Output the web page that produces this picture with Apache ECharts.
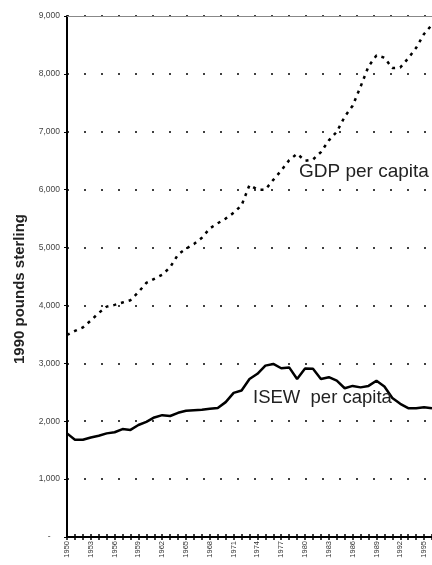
<!DOCTYPE html>
<html>
<head>
<meta charset="utf-8">
<script src="https://cdn.jsdelivr.net/npm/echarts@6/dist/echarts.min.js"></script>
<style>
  html, body { margin: 0; padding: 0; background: #fff; }
  #chart { width: 432px; height: 565px; }
</style>
</head>
<body>
<div id="chart"></div>
<script>
// years 1950-1996
const years = ['1950','1951','1952','1953','1954','1955','1956','1957','1958','1959',
  '1960','1961','1962','1963','1964','1965','1966','1967','1968','1969',
  '1970','1971','1972','1973','1974','1975','1976','1977','1978','1979',
  '1980','1981','1982','1983','1984','1985','1986','1987','1988','1989',
  '1990','1991','1992','1993','1994','1995','1996']

// GDP per capita (1990 pounds)
const gdp = [3490, 3560, 3620, 3740, 3870, 3980, 4010, 4050, 4090, 4230,
  4390, 4460, 4530, 4660, 4880, 4980, 5060, 5170, 5330, 5420,
  5500, 5600, 5730, 6080, 6000, 6000, 6170, 6330, 6510, 6620,
  6500, 6520, 6650, 6850, 7000, 7260, 7450, 7780, 8130, 8320,
  8280, 8100, 8110, 8270, 8450, 8690, 8850]

// ISEW per capita (1990 pounds)
const isew = [1790, 1680, 1680, 1720, 1750, 1790, 1810, 1865, 1850, 1935,
  1990, 2065, 2105, 2090, 2145, 2180, 2190, 2200, 2215, 2230,
  2330, 2490, 2530, 2730, 2820, 2960, 2990, 2915, 2930, 2730,
  2910, 2905, 2730, 2760, 2700, 2570, 2610, 2585, 2610, 2700,
  2600, 2400, 2300, 2225, 2225, 2240, 2225]

const chart = echarts.init(document.getElementById('chart'))

const font = 'Liberation Sans, Arial, sans-serif'

const option = {
  animation: false,
  backgroundColor: '#fff',
  grid: { left: 67, right: -2, top: 16, bottom: 28 },
  xAxis: [
    {
      type: 'category',
      data: years,
      boundaryGap: false,
      axisLine: { lineStyle: { color: '#000', width: 2 } },
      axisTick: { interval: 0, length: 3, lineStyle: { color: '#000', width: 1.5 } },
      axisLabel: {
        interval: 2, rotate: 90, fontSize: 7.5, color: '#333',
        fontFamily: font, margin: 4
      },
      splitLine: { show: false }
    },
    {
      // inside ticks so the marks cross the axis
      type: 'category',
      data: years,
      boundaryGap: false,
      position: 'bottom',
      axisLine: { show: false },
      axisTick: { inside: true, interval: 0, length: 3, lineStyle: { color: '#000', width: 1.5 } },
      axisLabel: { show: false },
      splitLine: { show: false }
    },
    {
      // top border of the plot
      type: 'category',
      data: years,
      boundaryGap: false,
      position: 'top',
      axisLine: { lineStyle: { color: '#888', width: 1 } },
      axisTick: { show: false },
      axisLabel: { show: false }
    }
  ],
  yAxis: {
    type: 'value',
    min: 0,
    max: 9000,
    interval: 1000,
    axisLine: { show: true, lineStyle: { color: '#000', width: 2 } },
    axisTick: { show: true, length: 3, lineStyle: { color: '#000', width: 1 } },
    axisLabel: {
      fontSize: 8.5, color: '#444', fontFamily: font, margin: 7,
      showMinLabel: true,
      formatter: v => v === 0 ? '-    ' : v.toLocaleString('en-US')
    },
    splitLine: {
      lineStyle: { color: '#000', width: 1.5, type: [2, 15] }
    }
  },
  series: [
    {
      name: 'GDP per capita',
      type: 'line',
      data: gdp,
      symbol: 'none',
      lineStyle: { color: '#000', width: 2.5, type: [3, 5] },
      z: 3
    },
    {
      name: 'ISEW per capita',
      type: 'line',
      data: isew,
      symbol: 'none',
      lineStyle: { color: '#000', width: 2.5 },
      z: 3
    }
  ],
  graphic: [
    {
      type: 'text', x: 20, y: 289, rotation: Math.PI / 2, z: 10,
      style: {
        text: '1990 pounds sterling', fontSize: 15, fontWeight: 'bold',
        fontFamily: font, fill: '#222', align: 'center', verticalAlign: 'middle'
      }
    },
    {
      type: 'text', left: 299, top: 162, z: 10,
      style: { text: 'GDP per capita', fontSize: 19, fontFamily: font, fill: '#222' }
    },
    {
      type: 'text', left: 253, top: 388, z: 10,
      style: { text: 'ISEW  per capita', fontSize: 18.5, fontFamily: font, fill: '#222' }
    }
  ]
}

chart.setOption(option)
</script>
</body>
</html>
